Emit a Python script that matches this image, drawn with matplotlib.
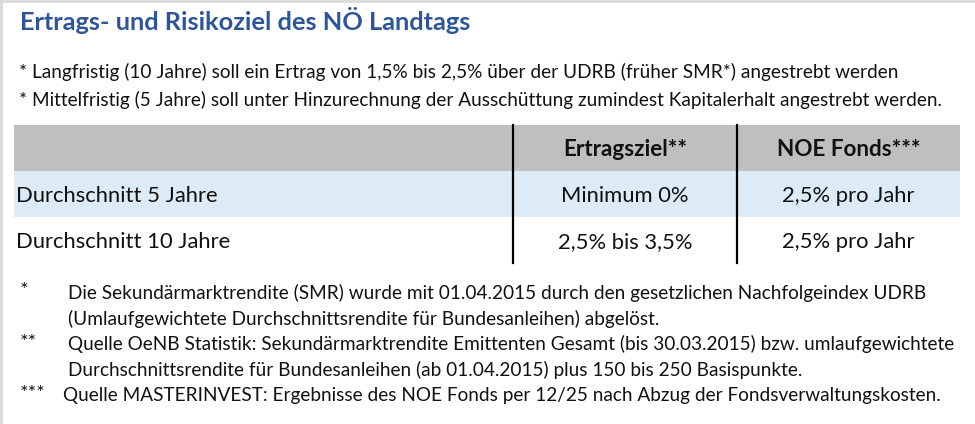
import matplotlib
matplotlib.use("Agg")
import matplotlib.pyplot as plt
from matplotlib.patches import Rectangle

plt.rcParams['font.family'] = ['Lato', 'DejaVu Sans']

title = "Ertrags- und Risikoziel des NÖ Landtags"
intro = [
    "* Langfristig (10 Jahre) soll ein Ertrag von 1,5% bis 2,5% über der UDRB (früher SMR*) angestrebt werden",
    "* Mittelfristig (5 Jahre) soll unter Hinzurechnung der Ausschüttung zumindest Kapitalerhalt angestrebt werden.",
]
columns = ["", "Ertragsziel**", "NOE Fonds***"]
rows = ["Durchschnitt 5 Jahre", "Durchschnitt 10 Jahre"]
ertragsziel = ["Minimum 0%", "2,5% bis 3,5%"]
noe_fonds = ["2,5% pro Jahr", "2,5% pro Jahr"]
notes = [
    ("*", ["Die Sekundärmarktrendite (SMR) wurde mit 01.04.2015 durch den gesetzlichen Nachfolgeindex UDRB",
           "(Umlaufgewichtete Durchschnittsrendite für Bundesanleihen) abgelöst."]),
    ("**", ["Quelle OeNB Statistik: Sekundärmarktrendite Emittenten Gesamt (bis 30.03.2015) bzw. umlaufgewichtete",
            "Durchschnittsrendite für Bundesanleihen (ab 01.04.2015) plus 150 bis 250 Basispunkte."]),
    ("***", ["Quelle MASTERINVEST: Ergebnisse des NOE Fonds per 12/25 nach Abzug der Fondsverwaltungskosten."]),
]

W, H = 975, 424
fig = plt.figure(figsize=(W / 100, H / 100), dpi=100)
ax = fig.add_axes([0, 0, 1, 1])
ax.set_xlim(0, W)
ax.set_ylim(H, 0)
ax.axis("off")

# thin frame on top / left
ax.plot([1, W], [1, 1], color="#d9d9d9", lw=2)
ax.plot([1, 1], [1, H], color="#d9d9d9", lw=2)

ax.text(20, 21, title, fontsize=18.3, fontweight="bold", color="#2F5597", va="center")
for i, line in enumerate(intro):
    ax.text(19, 72 + i * 28, line, fontsize=13.7, color="#111111", va="center")

# table
x0, x1 = 14, 960
col_x = [14, 513, 737, 960]
y_top = 125
row_h = 46
fills = ["#BFBFBF", "#DDEBF7", "white"]
for r in range(3):
    ax.add_patch(Rectangle((x0, y_top + r * row_h), x1 - x0, row_h, color=fills[r], lw=0))
for x in col_x[1:3]:
    ax.plot([x, x], [y_top, y_top + 3 * row_h], color="black", lw=1.6)

centers = [(col_x[1] + col_x[2]) / 2, (col_x[2] + col_x[3]) / 2]
for j, c in enumerate(columns[1:]):
    ax.text(centers[j], y_top + row_h / 2 + 2, c, fontsize=16.2, fontweight="bold",
            ha="center", va="center", color="#111111")
for i, name in enumerate(rows):
    yc = y_top + (i + 1.5) * row_h + 2
    ax.text(16, yc, name, fontsize=15.8, va="center", color="#111111")
    ax.text(centers[0], yc, ertragsziel[i], fontsize=15.8, ha="center", va="center", color="#111111")
    ax.text(centers[1], yc, noe_fonds[i], fontsize=15.8, ha="center", va="center", color="#111111")

# footnotes
y = 293
for mark, lines in notes:
    ax.text(20, y - 2, mark, fontsize=14.5, va="center", color="#111111")
    tx = 63 if mark == "***" else 68
    for line in lines:
        ax.text(tx, y, line, fontsize=13.7, va="center", color="#111111")
        y += 25.6

fig.savefig("out.png", dpi=100)
